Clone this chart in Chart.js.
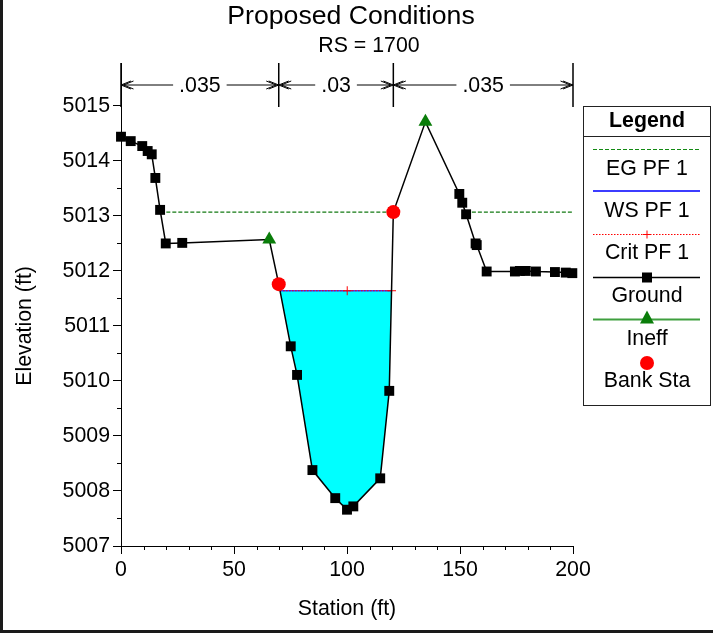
<!DOCTYPE html>
<html>
<head>
<meta charset="utf-8">
<script src="https://cdn.jsdelivr.net/npm/chart.js@4/dist/chart.umd.min.js"></script>
<style>
  html, body { margin: 0; padding: 0; background: #fff; }
  #wrap { width: 713px; height: 635px; position: relative; }
  canvas { display: block; }
</style>
</head>
<body>
<div id="wrap"><canvas id="xs" width="713" height="635"></canvas></div>
<script>
// Cross section RS 1700, proposed conditions
const groundStations = [0, 4.3, 9.4, 11.8, 13.6, 15.2, 17.3, 19.8, 27.1, 65.6,
  69.8, 75.1, 77.9, 84.7, 94.8, 100.0, 102.8, 114.7, 118.7, 120.5,
  134.7, 149.7, 151.0, 152.7, 156.9, 157.4, 161.8, 174.3, 176.5, 179.1,
  183.6, 192.0, 196.8, 199.7];
const groundElevations = [5014.44, 5014.36, 5014.27, 5014.18, 5014.12, 5013.69, 5013.11, 5012.50, 5012.51, 5012.57,
  5011.76, 5010.63, 5010.11, 5008.38, 5007.87, 5007.66, 5007.72, 5008.23, 5009.82, 5013.07,
  5014.71, 5013.40, 5013.24, 5013.03, 5012.50, 5012.47, 5011.99, 5011.99, 5012.00, 5012.00,
  5011.99, 5011.98, 5011.97, 5011.96];
const bankStations = [69.8, 120.5];
const ineffStations = [65.6, 134.7];
const wsElevation = 5011.64;
const wsStations = [70.4, 119.7];
const critElevation = 5011.64;
const critStations = [70.4, 100.1, 119.7];
const critMarked = [false, true, true];
const egElevation = 5013.07;
const egStations = [17.4, 120.5, null, 152.6, 200];
const nStations = [0, 69.8, 120.5, 200];
const nValues = ['.035', '.03', '.035'];
const xTickValues = [0, 50, 100, 150, 200];
const xMinorTicks = [10, 20, 30, 40, 60, 70, 80, 90, 110, 120, 130, 140, 160, 170, 180, 190];
const yTickValues = [5007, 5008, 5009, 5010, 5011, 5012, 5013, 5014, 5015];
const yMinorTicks = [5007.5, 5008.5, 5009.5, 5010.5, 5011.5, 5012.5, 5013.5, 5014.5];
const legendLabels = ['EG PF 1', 'WS PF 1', 'Crit PF 1', 'Ground', 'Ineff', 'Bank Sta'];

const FONT = '"Liberation Sans", Arial, sans-serif';
const GREEN = '#0a7d0a';
const BLUE = '#3c3cff';
const RED = '#ff0000';

const groundAt = s => groundElevations[groundStations.indexOf(s)];
const groundPts = groundStations.map((s, i) => ({ x: s, y: groundElevations[i] }));
const markerHidden = s => ineffStations.includes(s);

// wetted area: water surface edges plus the ground points between them
const waterPts = [{ x: wsStations[0], y: wsElevation }]
  .concat(groundPts.filter(p => p.x > wsStations[0] && p.x < wsStations[1]))
  .concat([{ x: wsStations[1], y: wsElevation }]);

const egPts = egStations.map(s => s === null ? { x: 136, y: null } : { x: s, y: egElevation });

const decorations = {
  id: 'decorations',
  beforeDraw(chart) {
    const ctx = chart.ctx;
    ctx.save();
    ctx.fillStyle = '#fff';
    ctx.fillRect(0, 0, chart.width, chart.height);
    ctx.restore();
  },
  afterDraw(chart) {
    const ctx = chart.ctx;
    const xs = chart.scales.x, ys = chart.scales.y;
    const area = chart.chartArea;
    ctx.save();

    // frame on left and bottom
    ctx.fillStyle = '#1a1a1a';
    ctx.fillRect(0, 0, 3, 633);
    ctx.fillRect(0, 630, 713, 3);

    // minor ticks
    ctx.strokeStyle = '#000';
    ctx.lineWidth = 1;
    ctx.beginPath();
    xMinorTicks.forEach(v => {
      const px = Math.round(xs.getPixelForValue(v)) + 0.5;
      ctx.moveTo(px, area.bottom);
      ctx.lineTo(px, area.bottom + 4);
    });
    yMinorTicks.forEach(v => {
      const py = Math.round(ys.getPixelForValue(v)) + 0.5;
      ctx.moveTo(area.left - 4, py);
      ctx.lineTo(area.left, py);
    });
    ctx.stroke();

    // titles
    ctx.fillStyle = '#000';
    ctx.textAlign = 'center';
    ctx.textBaseline = 'middle';
    ctx.font = '26.67px ' + FONT;
    ctx.fillText('Proposed Conditions', 351, 17);
    ctx.font = '21.33px ' + FONT;
    ctx.fillText('RS = 1700', 369, 46);
    ctx.fillText('Station (ft)', (area.left + area.right) / 2, 609);
    ctx.save();
    ctx.translate(25, (ys.getPixelForValue(5007) + ys.getPixelForValue(5015)) / 2);
    ctx.rotate(-Math.PI / 2);
    ctx.fillText('Elevation (ft)', 0, 0);
    ctx.restore();

    // Manning's n bands
    const nTop = area.top, nBot = area.top + 44, nY = 85;
    ctx.strokeStyle = '#000';
    ctx.lineWidth = 1.5;
    ctx.beginPath();
    nStations.forEach(s => {
      const px = xs.getPixelForValue(s);
      ctx.moveTo(px, nTop);
      ctx.lineTo(px, nBot);
    });
    ctx.stroke();
    ctx.lineWidth = 1;
    nValues.forEach((label, i) => {
      const a = xs.getPixelForValue(nStations[i]);
      const b = xs.getPixelForValue(nStations[i + 1]);
      const mid = (a + b) / 2;
      const half = ctx.measureText(label).width / 2 + 6;
      ctx.beginPath();
      ctx.moveTo(a, nY); ctx.lineTo(mid - half, nY);
      ctx.moveTo(mid + half, nY); ctx.lineTo(b, nY);
      // open arrowheads pointing to the band limits
      [0, 2.5].forEach(o => {
        ctx.moveTo(a + o + 10, nY - 4); ctx.lineTo(a + o, nY); ctx.lineTo(a + o + 10, nY + 4);
        ctx.moveTo(b - o - 10, nY - 4); ctx.lineTo(b - o, nY); ctx.lineTo(b - o - 10, nY + 4);
      });
      ctx.stroke();
      ctx.fillText(label, mid, nY + 1);
    });

    // legend
    const L = 583.5, R = 710.5, T = 106.5, B = 405.5, cx = (L + R) / 2;
    ctx.fillStyle = '#fff';
    ctx.fillRect(L, T, R - L, B - T);
    ctx.strokeStyle = '#222';
    ctx.lineWidth = 1;
    ctx.strokeRect(L, T, R - L, B - T);
    ctx.beginPath();
    ctx.moveTo(L, 136.5); ctx.lineTo(R, 136.5);
    ctx.stroke();
    ctx.fillStyle = '#000';
    ctx.font = 'bold 21.33px ' + FONT;
    ctx.fillText('Legend', cx, 121);
    ctx.font = '21.33px ' + FONT;
    const x1 = 593, x2 = 700;
    const lineYs = [149.5, 191, 234.5, 277.5, 319.5, 363];
    const textYs = [169, 211, 253, 296, 339, 381];
    legendLabels.forEach((t, i) => ctx.fillText(t, cx, textYs[i]));
    const seg = (y, color, width, dash) => {
      ctx.save();
      ctx.strokeStyle = color; ctx.lineWidth = width; ctx.setLineDash(dash);
      ctx.beginPath(); ctx.moveTo(x1, y); ctx.lineTo(x2, y); ctx.stroke();
      ctx.restore();
    };
    seg(lineYs[0], '#138a13', 1, [4, 2]);
    seg(lineYs[1], BLUE, 2, []);
    seg(lineYs[2], RED, 1, [1.5, 1.5]);
    ctx.strokeStyle = RED; ctx.lineWidth = 1;
    ctx.beginPath();
    ctx.moveTo(cx - 4, lineYs[2]); ctx.lineTo(cx + 4, lineYs[2]);
    ctx.moveTo(cx, lineYs[2] - 4); ctx.lineTo(cx, lineYs[2] + 4);
    ctx.stroke();
    seg(lineYs[3], '#000', 1.5, []);
    ctx.fillStyle = '#000';
    ctx.fillRect(cx - 5, lineYs[3] - 5, 10, 10);
    seg(lineYs[4], '#3f9f3f', 2, []);
    ctx.fillStyle = GREEN;
    ctx.beginPath();
    ctx.moveTo(cx, lineYs[4] - 9); ctx.lineTo(cx + 7, lineYs[4] + 4); ctx.lineTo(cx - 7, lineYs[4] + 4);
    ctx.closePath(); ctx.fill();
    ctx.fillStyle = RED;
    ctx.beginPath(); ctx.arc(cx, lineYs[5], 7, 0, Math.PI * 2); ctx.fill();

    ctx.restore();
  }
};

new Chart(document.getElementById('xs'), {
  type: 'scatter',
  data: {
    datasets: [
      {
        label: 'Bank Sta',
        data: bankStations.map(s => ({ x: s, y: groundAt(s) })),
        showLine: false, pointStyle: 'circle', pointRadius: 7,
        pointBackgroundColor: RED, pointBorderColor: RED, pointBorderWidth: 0,
        order: 1, clip: false
      },
      {
        label: 'Ineff',
        data: ineffStations.map(s => ({ x: s, y: groundAt(s) })),
        showLine: false, pointStyle: 'triangle', pointRadius: 8,
        pointBackgroundColor: GREEN, pointBorderColor: GREEN, pointBorderWidth: 0,
        order: 2, clip: false
      },
      {
        label: 'Ground',
        data: groundPts,
        showLine: true, borderColor: '#000', borderWidth: 1.5,
        pointStyle: 'rect',
        pointRadius: groundStations.map(s => markerHidden(s) ? 0 : 7),
        pointBackgroundColor: '#000', pointBorderColor: '#000', pointBorderWidth: 0,
        order: 3, clip: false
      },
      {
        label: 'Crit PF 1',
        data: critStations.map(s => ({ x: s, y: critElevation })),
        showLine: true, borderColor: RED, borderWidth: 1, borderDash: [1.5, 1.5],
        pointStyle: 'cross', pointRadius: critMarked.map(m => m ? 4.5 : 0),
        pointBorderColor: RED, pointBorderWidth: 1,
        order: 4
      },
      {
        label: 'WS PF 1',
        data: wsStations.map(s => ({ x: s, y: wsElevation })),
        showLine: true, borderColor: BLUE, borderWidth: 1.5, pointRadius: 0,
        order: 5
      },
      {
        label: 'EG PF 1',
        data: egPts,
        showLine: true, spanGaps: false, borderColor: '#137a13', borderWidth: 1.2, borderDash: [4, 2],
        pointRadius: 0,
        order: 6
      },
      {
        label: 'Water',
        data: waterPts,
        showLine: true, fill: 'shape', backgroundColor: '#00ffff',
        borderColor: 'rgba(0,0,0,0)', borderWidth: 0, pointRadius: 0,
        order: 7
      }
    ]
  },
  options: {
    responsive: false,
    animation: false,
    devicePixelRatio: 1,
    layout: { padding: { left: 0, right: 140, top: 63, bottom: 0 } },
    plugins: { legend: { display: false }, tooltip: { enabled: false }, title: { display: false } },
    scales: {
      x: {
        type: 'linear', min: 0, max: 200,
        afterBuildTicks: s => { s.ticks = xTickValues.map(v => ({ value: v })); },
        afterFit: s => { s.height = 89; },
        grid: { drawOnChartArea: false, drawTicks: true, tickLength: 8, color: '#000', tickWidth: 1 },
        border: { display: true, color: '#000', width: 1 },
        ticks: { color: '#000', font: { family: FONT, size: 21.33 }, padding: 3, maxRotation: 0, autoSkip: false,
          callback: v => String(v) }
      },
      y: {
        type: 'linear', min: 5007, max: 5015.78,
        afterBuildTicks: s => { s.ticks = yTickValues.map(v => ({ value: v })); },
        afterFit: s => { s.width = 121; },
        grid: { drawOnChartArea: false, drawTicks: true, tickLength: 8, color: '#000', tickWidth: 1 },
        border: { display: true, color: '#000', width: 1 },
        ticks: { color: '#000', font: { family: FONT, size: 21.33 }, padding: 3, autoSkip: false,
          callback: v => String(v) }
      }
    }
  },
  plugins: [decorations]
});
</script>
</body>
</html>
